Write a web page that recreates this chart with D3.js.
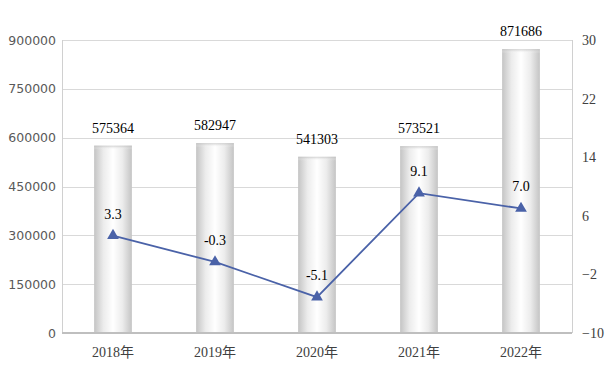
<!DOCTYPE html>
<html><head><meta charset="utf-8">
<script src="https://cdn.jsdelivr.net/npm/d3@7"></script>
<style>body{margin:0;background:#fff}svg{display:block}</style>
</head><body><svg id="c" width="615" height="378"></svg>
<script>
const categories = ["2018年","2019年","2020年","2021年","2022年"];
const barValues = [575364, 582947, 541303, 573521, 871686];
const growth = [3.3, -0.3, -5.1, 9.1, 7.0];
const growthLabels = ["3.3","-0.3","-5.1","9.1","7.0"];
const leftTicks = [0,150000,300000,450000,600000,750000,900000];
const rightTicks = [-10,-2,6,14,22,30];

const svg = d3.select("#c");
const m = {l:62, r:43, t:40, b:45};
const W = 615, H = 378;
const x = d3.scaleBand().domain(categories).range([m.l, W-m.r]).paddingInner(0.63).paddingOuter(0.315);
const y = d3.scaleLinear().domain([0,900000]).range([H-m.b, m.t]);
const y2 = d3.scaleLinear().domain([-10,30]).range([H-m.b, m.t]);

const defs = svg.append("defs");
const g = defs.append("linearGradient").attr("id","bg").attr("x1","0").attr("x2","1").attr("y1","0").attr("y2","0");
g.append("stop").attr("offset","0%").attr("stop-color","#c4c4c4");
g.append("stop").attr("offset","25%").attr("stop-color","#ececec");
g.append("stop").attr("offset","50%").attr("stop-color","#ffffff");
g.append("stop").attr("offset","75%").attr("stop-color","#ececec");
g.append("stop").attr("offset","100%").attr("stop-color","#c4c4c4");
const gt = defs.append("linearGradient").attr("id","tg").attr("x1","0").attr("x2","0").attr("y1","0").attr("y2","1");
gt.append("stop").attr("offset","0%").attr("stop-color","#bbbbbb").attr("stop-opacity",0.7);
gt.append("stop").attr("offset","100%").attr("stop-color","#ffffff").attr("stop-opacity",0);

// gridlines
svg.append("g").selectAll("line").data(leftTicks.slice(1)).join("line")
  .attr("x1", m.l).attr("x2", W-m.r).attr("y1", d=>Math.round(y(d))+0.5).attr("y2", d=>Math.round(y(d))+0.5)
  .attr("stroke","#d9d9d9").attr("stroke-width",1);
// side axis lines
svg.append("line").attr("x1",m.l+0.5).attr("x2",m.l+0.5).attr("y1",m.t).attr("y2",H-m.b).attr("stroke","#d0d0d0");
svg.append("line").attr("x1",W-m.r+0.5).attr("x2",W-m.r+0.5).attr("y1",m.t).attr("y2",H-m.b).attr("stroke","#d0d0d0");

// left axis
const la = svg.append("g").attr("transform",`translate(${m.l-6},0)`)
  .call(d3.axisLeft(y).tickValues(leftTicks).tickSize(0).tickPadding(0).tickFormat(d3.format("d")));
la.select(".domain").remove();
la.selectAll("text").attr("font-family","DejaVu Sans, Verdana, sans-serif").attr("font-size","12.5px").attr("fill","#595959");

// right axis
const ra = svg.append("g").attr("transform",`translate(${W-m.r+10},0)`)
  .call(d3.axisRight(y2).tickValues(rightTicks).tickSize(0).tickPadding(0));
ra.select(".domain").remove();
ra.selectAll("text").attr("font-family","Liberation Serif, Times New Roman, serif").attr("font-size","14px").attr("fill","#404040");

// bars
const bars = svg.append("g");
bars.selectAll("rect.b").data(barValues).join("rect").attr("class","b")
  .attr("x",(d,i)=>x(categories[i])).attr("width",x.bandwidth())
  .attr("y",d=>y(d)).attr("height",d=>y(0)-y(d)).attr("fill","url(#bg)");
bars.selectAll("rect.t").data(barValues).join("rect").attr("class","t")
  .attr("x",(d,i)=>x(categories[i])).attr("width",x.bandwidth())
  .attr("y",d=>y(d)).attr("height",4).attr("fill","url(#tg)");

// bottom axis
const xa = svg.append("g").attr("transform",`translate(0,${H-m.b})`)
  .call(d3.axisBottom(x).tickSize(0).tickPadding(14));
xa.select(".domain").attr("stroke","#bfbfbf").attr("stroke-width",2).attr("d",`M${m.l},0H${W-m.r}`);
xa.selectAll("text").attr("font-family","Liberation Serif, Times New Roman, Noto Sans CJK SC, serif").attr("font-size","14px").attr("fill","#404040");

// bar labels
svg.append("g").selectAll("text").data(barValues).join("text")
  .attr("x",(d,i)=>x(categories[i])+x.bandwidth()/2).attr("y",d=>y(d)-13)
  .attr("text-anchor","middle").attr("font-family","Liberation Serif, Times New Roman, serif")
  .attr("font-size","14px").attr("fill","#000").text(d=>d);

// line
const cx = (i)=>x(categories[i])+x.bandwidth()/2;
svg.append("path").datum(growth)
  .attr("d", d3.line().x((d,i)=>cx(i)).y(d=>y2(d)))
  .attr("fill","none").attr("stroke","#4a62a8").attr("stroke-width",1.8);
svg.append("g").selectAll("path").data(growth).join("path")
  .attr("transform",(d,i)=>`translate(${cx(i)},${y2(d)})`)
  .attr("d", d3.symbol().type(d3.symbolTriangle).size(60))
  .attr("fill","#4a62a8");
svg.append("g").selectAll("text").data(growth).join("text")
  .attr("x",(d,i)=>cx(i)).attr("y",d=>y2(d)-17)
  .attr("text-anchor","middle").attr("font-family","Liberation Serif, Times New Roman, serif")
  .attr("font-size","14px").attr("fill","#000").text((d,i)=>growthLabels[i]);
</script></body></html>
